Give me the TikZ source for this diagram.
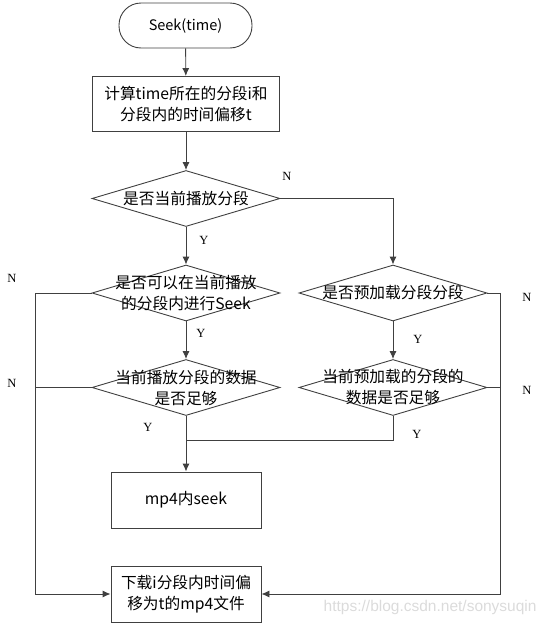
\documentclass[tikz,border=0pt]{standalone}
\usepackage{fontspec}
\setmainfont{Liberation Serif}
\newfontfamily\cjk{Noto Sans CJK SC}
\newfontfamily\wmfont{Liberation Sans}
\usetikzlibrary{shapes.geometric,arrows.meta}
\begin{document}
\begin{tikzpicture}[x=1pt,y=-1pt,
  line width=0.9pt,
  every node/.style={inner sep=0pt},
  lin/.style={draw=black!75},
  arr/.style={draw=black!75,-{Latex[length=8pt,width=7pt]}},
  txt/.style={font=\cjk\fontsize{15.7}{21}\selectfont,align=center},
  term/.style={draw=black!75,rounded corners=22pt,minimum width=133pt,minimum height=45pt,font=\cjk\fontsize{14.5}{18}\selectfont},
  procbox/.style={draw=black!75,minimum width=150pt,minimum height=56pt,txt},
  dia/.style={draw=black!75,diamond,minimum width=188pt,minimum height=56pt},
  yn/.style={font=\fontsize{12.5}{14}\selectfont}]
\useasboundingbox (0,0) rectangle (541,624);
\node[term] (start) at (185.5,25.5) {Seek(time)};
\node[procbox,minimum width=187pt,minimum height=55pt] (calc) at (186,104) {计算time所在的分段i和\\分段内的时间偏移t};
\node[dia] (d1) at (186,198.5) {};
\node[txt] (d1t) at (d1) {是否当前播放分段};
\node[dia] (d2) at (186,293) {};
\node[txt] (d2t) at (d2) {是否可以在当前播放\\的分段内进行Seek};
\node[dia] (d3) at (186,387.5) {};
\node[txt] (d3t) at (d3) {当前播放分段的数据\\是否足够};
\node[dia] (e1) at (393,293) {};
\node[txt] (e1t) at (e1) {是否预加载分段分段};
\node[dia] (e2) at (393,387.5) {};
\node[txt] (e2t) at (e2) {当前预加载的分段的\\数据是否足够};
\node[procbox] (mp4) at (186,500) {mp4内seek};
\node[procbox] (dl) at (186,594) {下载i分段内时间偏\\移为t的mp4文件};
\coordinate (jn) at (186,440);
\coordinate (lx) at (35,0);
\coordinate (rx) at (500.5,0);
\draw[arr] (start) -- (calc);
\draw[arr] (calc) -- (d1);
\draw[arr] (d1) -- (d2);
\draw[arr] (d1.east) -| (e1.north);
\draw[arr] (d2) -- (d3);
\draw[arr] (e1) -- (e2);
\draw[arr] (d3.south) -- (mp4.north);
\draw[lin] (e2.south) |- (jn);
\draw[arr] (d2.west) -- (d2.west -| lx) |- (dl.west);
\draw[lin] (d3.west) -- (d3.west -| lx);
\draw[arr] (e1.east) -- (e1.east -| rx) |- (dl.east);
\draw[lin] (e2.east) -- (e2.east -| rx);
\node[yn] (n1) at (287,176) {N};
\node[yn] (y1) at (204,240) {Y};
\node[yn] (n2) at (12,278) {N};
\node[yn] (y2) at (201,333) {Y};
\node[yn] (n3) at (12,383) {N};
\node[yn] (y3) at (148,427) {Y};
\node[yn] (y4) at (418,339) {Y};
\node[yn] (y5) at (417,434) {Y};
\node[yn] (n4) at (527,297) {N};
\node[yn] (n5) at (527,390) {N};
\node[font=\wmfont\fontsize{15.5}{17}\selectfont,text=black!14,anchor=east] (wm) at (537,607) {https://blog.csdn.net/sonysuqin};
\end{tikzpicture}
\end{document}
